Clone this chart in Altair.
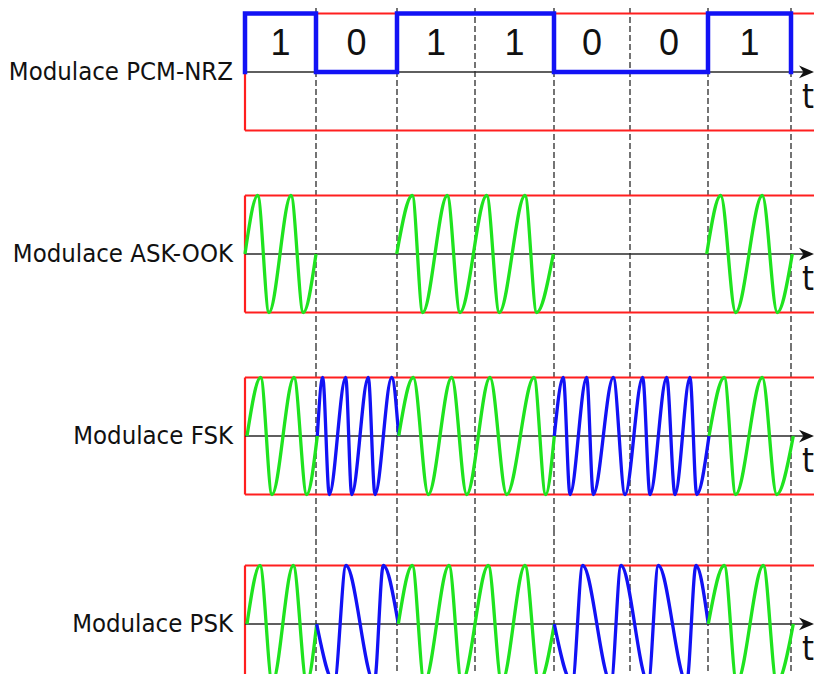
import altair as alt
import pandas as pd

# ---------------- data ----------------
BITS = [1, 0, 1, 1, 0, 0, 1]
BIT_EDGES = [0, 71, 152, 230, 309, 385, 463, 546]          # time of bit boundaries
LABELS = ["Modulace PCM-NRZ", "Modulace ASK-OOK", "Modulace FSK", "Modulace PSK"]

# ASK-OOK: carrier bursts (time of zero / peak / trough points, value)
ASK_T = [
    [0, 12.7, 24, 46, 58.3, 71],
    [151.7, 167.3, 177.7, 202.3, 215, 241.7, 254.3, 280, 291.7, 308.3],
    [461.7, 475.7, 490.7, 517.3, 532.3, 547.3],
]
ASK_V = [
    [0, 1, -1, 1, -1, 0],
    [0, 1, -1, 1, -1, 1, -1, 1, -1, 0],
    [0, 1, -1, 1, -1, 0],
]
ASK_C = ["1", "1", "1"]

# FSK
FSK_T = [
    [2, 15.7, 27, 49, 61.7, 72.3],
    [72.3, 77.7, 84.3, 100.7, 106.7, 123.3, 130, 146.7, 153.7],
    [153.7, 168.3, 183.3, 206.7, 221.7, 245, 261.7, 289, 300.7, 309.3],
    [309.3, 318.3, 325, 341.7, 348.3, 368.3, 380, 397.7, 405, 421.7, 430, 445, 451.7, 464],
    [464, 479.3, 490.7, 517.3, 531.7, 548.3],
]
FSK_V = [
    [0, 1, -1, 1, -1, 0],
    [0, 1, -1, 1, -1, 1, -1, 1, 0],
    [0, 1, -1, 1, -1, 1, -1, 1, -1, 0],
    [0, 1, -1, 1, -1, 1, -1, 1, -1, 1, -1, 1, -1, 0],
    [0, 1, -1, 1, -1, 0],
]
FSK_C = ["1", "0", "1", "0", "1"]

# PSK
PSK_T = [
    [2, 15, 27.3, 48.3, 61.7, 71.7],
    [71.7, 89.3, 101, 129.3, 138.3, 153.3],
    [153.3, 167.3, 179.3, 204, 216.7, 243.3, 256.7, 280, 294, 309.3],
    [309.3, 327.3, 337.7, 366, 376, 403.3, 413.3, 441.7, 451, 463.3],
    [463.3, 479.3, 491.7, 518.3, 531.7, 548.3],
]
PSK_V = [
    [0, 1, -1, 1, -1, 0],
    [0, -1, 1, -1, 1, 0],
    [0, 1, -1, 1, -1, 1, -1, 1, -1, 0],
    [0, -1, 1, -1, 1, -1, 1, -1, 1, 0],
    [0, 1, -1, 1, -1, 0],
]
PSK_C = ["1", "0", "1", "0", "1"]

# ---------------- styling / layout ----------------
RED = "#ff1f1f"
GREEN = "#1fe31f"
BLUE = "#1212f5"
DARK = "#2a2a2a"
LABEL_FONT = '"DejaVu Sans Condensed", "Liberation Sans", sans-serif'
DIGIT_FONT = '"Liberation Sans", Arial, sans-serif'
W = 806
X_DOM = [-237, 569]
PANEL_H = [155, 182, 185, 144]
Y_DOM = [[-1.556, 1.094], [-1.556, 1.556], [-1.607, 1.556], [-0.855, 1.607]]
ARROW = "M -1 -0.85 L 1 0 L -1 0.85 L -0.4 0 Z"

# ---------------- tables ----------------
def wave_df(ts, vs, cs, name):
    rows = []
    for j, (t, v, c) in enumerate(zip(ts, vs, cs)):
        for i, (ti, vi) in enumerate(zip(t, v)):
            rows.append({"seg": f"{name}{j}", "t": ti, "v": vi, "bit": c, "i": i})
    return pd.DataFrame(rows)

nrz_rows = [{"t": BIT_EDGES[0], "v": 0}]
for k, b in enumerate(BITS):
    nrz_rows.append({"t": BIT_EDGES[k], "v": b})
    nrz_rows.append({"t": BIT_EDGES[k + 1], "v": b})
nrz_rows.append({"t": BIT_EDGES[-1], "v": 0})
nrz_df = pd.DataFrame(nrz_rows).reset_index().rename(columns={"index": "i"})

digits_df = pd.DataFrame({
    "t": [(BIT_EDGES[k] + BIT_EDGES[k + 1]) / 2 for k in range(len(BITS))],
    "v": [0.47] * len(BITS),
    "txt": [str(b) for b in BITS],
})

edges_df = pd.DataFrame({"t": BIT_EDGES[1:]})
frame_df = pd.DataFrame({
    "x": [0, 0, 0], "x2": [X_DOM[1], X_DOM[1], 0],
    "y": [1, -1, -1], "y2": [1, -1, 1],
})
axis_df = pd.DataFrame({"x": [0], "x2": [560], "y": [0]})
arrow_df = pd.DataFrame({"x": [561.5], "y": [0]})
tlab_df = pd.DataFrame({"x": [563], "y": [-0.44], "txt": ["t"]})

WAVES = [
    None,
    wave_df(ASK_T, ASK_V, ASK_C, "ask"),
    wave_df(FSK_T, FSK_V, FSK_C, "fsk"),
    wave_df(PSK_T, PSK_V, PSK_C, "psk"),
]


def panel(k):
    xs = alt.Scale(domain=X_DOM, nice=False, zero=False)
    ys = alt.Scale(domain=Y_DOM[k], nice=False, zero=False)

    def X(f):
        return alt.X(f, type="quantitative", scale=xs, axis=None)

    def Y(f):
        return alt.Y(f, type="quantitative", scale=ys, axis=None)

    layers = []
    layers.append(
        alt.Chart(edges_df).mark_rule(color=DARK, strokeWidth=1.3, strokeDash=[6, 3], clip=True)
        .encode(x=X("t"))
    )
    layers.append(
        alt.Chart(frame_df).mark_rule(color=RED, strokeWidth=2.2, clip=True)
        .encode(x=X("x"), x2="x2", y=Y("y"), y2="y2")
    )
    layers.append(
        alt.Chart(axis_df).mark_rule(color=DARK, strokeWidth=1.5, clip=True)
        .encode(x=X("x"), x2="x2", y=Y("y"))
    )
    if k == 0:
        layers.append(
            alt.Chart(nrz_df).mark_line(color=BLUE, strokeWidth=4.5, strokeJoin="miter", strokeCap="square", clip=True)
            .encode(x=X("t"), y=Y("v"), order="i:Q")
        )
        layers.append(
            alt.Chart(digits_df).mark_text(font=DIGIT_FONT, fontSize=36, color="#111111", baseline="middle", align="center", clip=True)
            .encode(x=X("t"), y=Y("v"), text="txt:N")
        )
    else:
        layers.append(
            alt.Chart(WAVES[k]).mark_line(strokeWidth=3.3, interpolate="monotone", clip=True)
            .encode(
                x=X("t"), y=Y("v"), detail="seg:N", order="i:Q",
                color=alt.Color("bit:N", scale=alt.Scale(domain=["1", "0"], range=[GREEN, BLUE]), legend=None),
            )
        )
    layers.append(
        alt.Chart(arrow_df).mark_point(shape=ARROW, filled=True, size=225, color="#111111", opacity=1, clip=True)
        .encode(x=X("x"), y=Y("y"))
    )
    layers.append(
        alt.Chart(tlab_df).mark_text(font=LABEL_FONT, fontSize=34, color="#111111", baseline="middle", align="center", clip=True)
        .encode(x=X("x"), y=Y("y"), text="txt:N")
    )
    lab_df = pd.DataFrame({"x": [-12], "y": [0], "txt": [LABELS[k]]})
    layers.append(
        alt.Chart(lab_df).mark_text(font=LABEL_FONT, fontSize=25.5, color="#111111", baseline="middle", align="right", clip=True)
        .encode(x=X("x"), y=Y("y"), text="txt:N")
    )
    return alt.layer(*layers).properties(width=W, height=PANEL_H[k])


chart = (
    alt.vconcat(*[panel(k) for k in range(4)], spacing=0)
    .properties(padding=0, background="white")
    .configure_view(stroke=None)
)

chart.save("out.html", embed_options={"renderer": "svg", "actions": False})
